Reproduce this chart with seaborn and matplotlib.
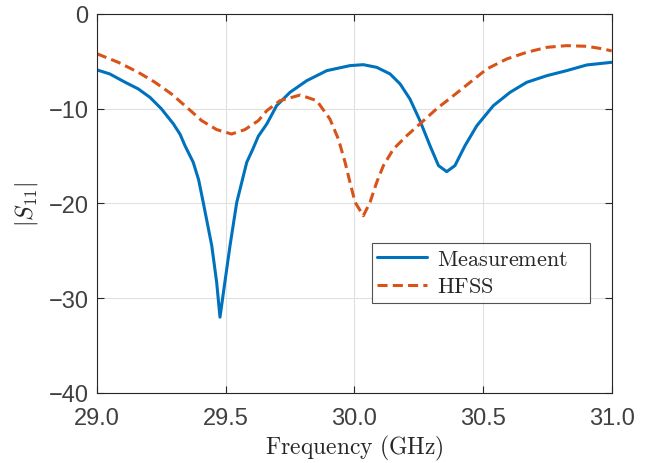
import numpy as np
import pandas as pd
import matplotlib
matplotlib.use("Agg")
import matplotlib.pyplot as plt
import seaborn as sns

freq_med = [29.0, 29.05, 29.109, 29.16, 29.206, 29.25, 29.297, 29.323, 29.342, 29.374,
            29.395, 29.413, 29.446, 29.465, 29.478, 29.497, 29.517, 29.543, 29.582,
            29.605, 29.627, 29.66, 29.698, 29.75, 29.815, 29.893, 29.983, 30.035,
            30.087, 30.139, 30.178, 30.216, 30.255, 30.294, 30.327, 30.359, 30.391,
            30.43, 30.476, 30.54, 30.605, 30.67, 30.748, 30.825, 30.903, 31.0]
s11_med = [-5.9, -6.33, -7.2, -7.9, -8.8, -10.0, -11.6, -12.7, -13.9, -15.65,
           -17.5, -19.9, -24.45, -28.3, -32.0, -28.3, -24.45, -19.9, -15.65,
           -14.3, -12.9, -11.6, -9.68, -8.27, -7.04, -5.98, -5.45, -5.35,
           -5.63, -6.33, -7.39, -8.97, -11.26, -13.9, -16.0, -16.64, -16.0,
           -13.9, -11.79, -9.68, -8.27, -7.21, -6.51, -5.98, -5.38, -5.1]

# simulacion HFSS
freq_hfss = [29.0, 29.083, 29.16, 29.225, 29.29, 29.349, 29.407, 29.465, 29.523,
             29.575, 29.627, 29.66, 29.711, 29.79, 29.854, 29.905, 29.938, 29.964,
             29.983, 30.003, 30.035, 30.061, 30.087, 30.113, 30.152, 30.204, 30.255,
             30.32, 30.385, 30.45, 30.515, 30.592, 30.67, 30.748, 30.825, 30.903,
             30.968, 31.0]
s11_hfss = [-4.2, -5.1, -6.15, -7.2, -8.45, -9.85, -11.26, -12.2, -12.67,
            -12.2, -11.26, -10.2, -9.15, -8.55, -9.15, -11.08, -13.2, -15.65,
            -17.76, -19.87, -21.3, -19.87, -17.76, -16.0, -14.25, -12.84, -11.6,
            -10.0, -8.62, -7.21, -5.8, -4.75, -4.04, -3.52, -3.34, -3.41,
            -3.69, -3.9]

xticks = [29.0, 29.5, 30.0, 30.5, 31.0]
yticks = [0, -10, -20, -30, -40]

sns.set_style("ticks")
plt.rcParams["font.family"] = ["Liberation Sans", "DejaVu Sans"]
plt.rcParams["mathtext.fontset"] = "cm"

fig = plt.figure(figsize=(6.61, 4.64), dpi=100)
ax = fig.add_axes([0.1467, 0.1509, 0.7787, 0.8168])

df_med = pd.DataFrame({"f": freq_med, "s": s11_med})
df_hfss = pd.DataFrame({"f": freq_hfss, "s": s11_hfss})

sns.lineplot(data=df_med, x="f", y="s", ax=ax, color="#0072BD", linewidth=2.2,
             label=r"$\mathrm{Measurement}$")
sns.lineplot(data=df_hfss, x="f", y="s", ax=ax, color="#D95319", linewidth=2.2,
             label=r"$\mathrm{HFSS}$")
ax.lines[1].set_dashes((3.3, 1.7))

ax.set_xlim(29, 31)
ax.set_ylim(-40, 0)
ax.set_xticks(xticks)
ax.set_xticklabels([f"{t:.1f}" for t in xticks])
ax.set_yticks(yticks)
ax.set_yticklabels(["0", "\u221210", "\u221220", "\u221230", "\u221240"])
ax.grid(True, color="#e0e0e0", linewidth=0.8)
ax.set_axisbelow(True)

for sp in ax.spines.values():
    sp.set_visible(True)
    sp.set_color("#262626")
    sp.set_linewidth(0.8)
ax.tick_params(direction="in", length=5, width=0.8, top=True, right=True,
               labelsize=17, colors="#262626")
ax.tick_params(axis="x", pad=10)
ax.tick_params(axis="y", pad=6)
for lab in ax.get_xticklabels() + ax.get_yticklabels():
    lab.set_color("#404040")

ax.set_xlabel(r"$\mathrm{Frequency\ (GHz)}$", fontsize=17, color="#262626", labelpad=3)
ax.set_ylabel(r"$|S_{11}|$", fontsize=17, color="#262626", labelpad=6)

leg = ax.legend(loc="lower left", bbox_to_anchor=(0.534, 0.2375, 0.423, 0.1835),
                mode="expand", fontsize=16, frameon=True, fancybox=False,
                handlelength=2.25, handletextpad=0.45, borderaxespad=0,
                borderpad=0.25, labelspacing=0.3)
leg.get_frame().set_edgecolor("#262626")
leg.get_frame().set_linewidth(0.8)

fig.savefig("out.png", dpi=100)
